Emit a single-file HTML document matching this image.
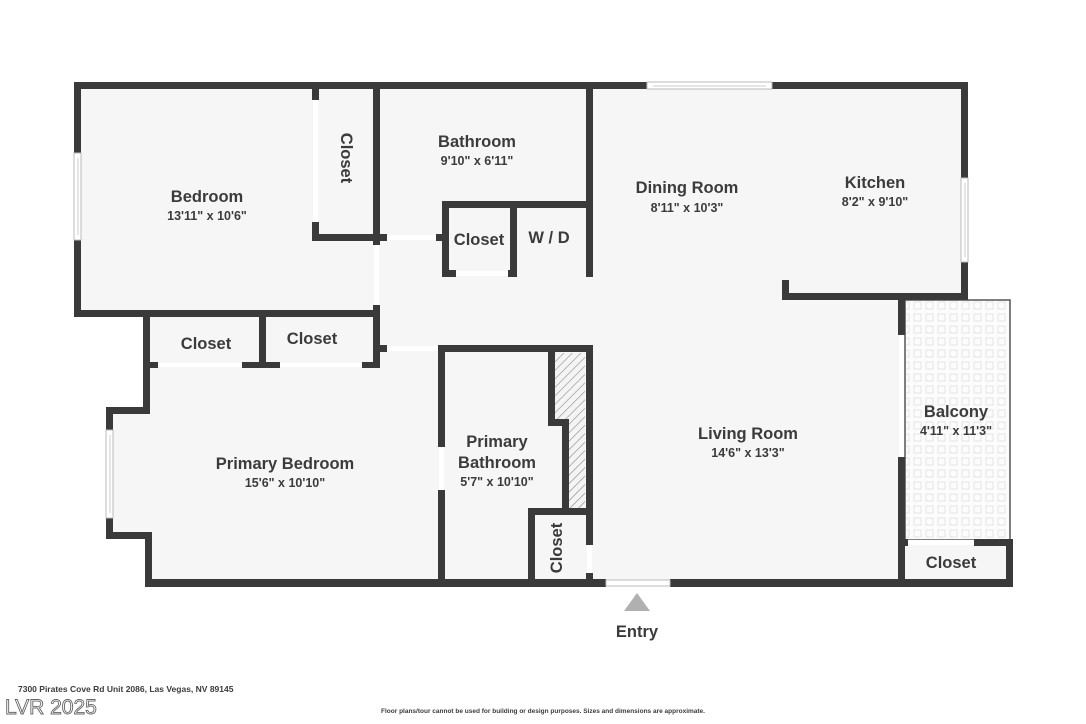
<!DOCTYPE html>
<html><head><meta charset="utf-8"><style>
html,body{margin:0;padding:0;background:#fff;width:1086px;height:724px;overflow:hidden}
svg{display:block}
text{font-family:"Liberation Sans",sans-serif;font-weight:bold;fill:#3b3b3b;text-anchor:middle}
.l{font-size:16.5px}.d{font-size:12.5px}
</style></head><body>
<svg width="1086" height="724" viewBox="0 0 1086 724" xmlns="http://www.w3.org/2000/svg">
<defs>
<pattern id="tile" width="12" height="12" patternUnits="userSpaceOnUse">
<rect width="12" height="12" fill="#fcfcfc"/>
<rect x="2" y="2" width="7" height="7" fill="none" stroke="#e4e4e4" stroke-width="1"/>
</pattern>
<pattern id="hatch" width="6" height="6" patternUnits="userSpaceOnUse" patternTransform="rotate(45)">
<rect width="6" height="6" fill="#f4f4f4"/>
<line x1="0" y1="0" x2="0" y2="6" stroke="#8a8a8a" stroke-width="1.2"/>
</pattern>
</defs>
<path d="M78 86 H965 V297 H902 V583 H148 V535 H110 V410 H146 V313 H78 Z" fill="#f6f6f6"/>
<rect x="905" y="300" width="105" height="240" fill="url(#tile)" stroke="#555" stroke-width="1.5"/>
<rect x="905" y="543" width="105" height="40" fill="#f6f6f6"/>
<path d="M555 353 H585 V508 H569 V420 H555 Z" fill="url(#hatch)"/>
<g fill="#3a3a3a">
<rect x="74" y="82" width="573" height="7"/>
<rect x="772" y="82" width="196" height="7"/>
<rect x="74" y="82" width="7" height="71"/>
<rect x="74" y="240" width="7" height="77"/>
<rect x="74" y="310" width="306" height="7"/>
<rect x="312" y="89" width="7" height="11"/>
<rect x="312" y="222" width="7" height="19"/>
<rect x="312" y="234" width="68" height="7"/>
<rect x="373" y="82" width="7" height="163"/>
<rect x="373" y="305" width="7" height="63"/>
<rect x="373" y="234" width="14" height="7"/>
<rect x="586" y="82" width="7" height="195"/>
<rect x="442" y="201" width="151" height="7"/>
<rect x="436" y="234" width="13" height="7"/>
<rect x="442" y="201" width="7" height="76"/>
<rect x="510" y="201" width="7" height="76"/>
<rect x="442" y="270" width="14" height="7"/>
<rect x="508" y="270" width="9" height="7"/>
<rect x="961" y="82" width="7" height="96"/>
<rect x="961" y="262" width="7" height="38"/>
<rect x="782" y="293" width="186" height="7"/>
<rect x="782" y="280" width="7" height="20"/>
<rect x="143" y="313" width="7" height="99"/>
<rect x="259" y="313" width="7" height="55"/>
<rect x="143" y="362" width="15" height="6"/>
<rect x="242" y="362" width="38" height="6"/>
<rect x="362" y="362" width="18" height="6"/>
<rect x="373" y="345" width="14" height="7"/>
<rect x="438" y="345" width="155" height="7"/>
<rect x="106" y="407" width="44" height="7"/>
<rect x="106" y="407" width="7" height="23"/>
<rect x="106" y="518" width="7" height="21"/>
<rect x="106" y="532" width="46" height="7"/>
<rect x="145" y="532" width="7" height="55"/>
<rect x="145" y="579" width="461" height="8"/>
<rect x="670" y="579" width="343" height="8"/>
<rect x="438" y="345" width="7" height="102"/>
<rect x="438" y="490" width="7" height="97"/>
<rect x="548" y="345" width="7" height="81"/>
<rect x="548" y="419" width="21" height="7"/>
<rect x="562" y="419" width="7" height="93"/>
<rect x="586" y="345" width="7" height="200"/>
<rect x="586" y="573" width="7" height="14"/>
<rect x="528" y="508" width="65" height="7"/>
<rect x="528" y="508" width="7" height="79"/>
<rect x="898" y="300" width="7" height="35"/>
<rect x="898" y="457" width="7" height="130"/>
<rect x="898" y="539" width="10" height="7"/>
<rect x="974" y="539" width="39" height="7"/>
<rect x="1006" y="539" width="7" height="48"/>
</g>
<g fill="#fff" stroke="#bbb" stroke-width="1">
<rect x="647" y="82" width="125" height="7"/>
<rect x="74" y="153" width="7" height="87"/>
<rect x="961" y="178" width="7" height="84"/>
<rect x="106" y="430" width="7" height="88"/>
<rect x="606" y="580" width="64" height="6"/>
</g>
<g stroke="#ccc" stroke-width="1" fill="none">
<line x1="78" y1="158" x2="78" y2="235"/><line x1="965" y1="183" x2="965" y2="257"/><line x1="110" y1="435" x2="110" y2="513"/>
<line x1="653" y1="86" x2="766" y2="86"/>
</g>
<g fill="#fff">
<rect x="313" y="100" width="5" height="122"/>
<rect x="374" y="245" width="5" height="60"/>
<rect x="387" y="235" width="49" height="5"/>
<rect x="456" y="271" width="52" height="5"/>
<rect x="158" y="363" width="84" height="4"/>
<rect x="280" y="363" width="82" height="4"/>
<rect x="387" y="346" width="51" height="5"/>
<rect x="439" y="447" width="5" height="43"/>
<rect x="587" y="545" width="5" height="28"/>
<rect x="899" y="335" width="5" height="122"/>
<rect x="908" y="540" width="66" height="5"/>
</g>
<polygon points="637,593 650,611 624,611" fill="#b0b0b0"/>
<text class="l" x="207" y="202">Bedroom</text><text class="d" x="207" y="220">13'11" x 10'6"</text>
<text class="l" x="477" y="147">Bathroom</text><text class="d" x="477" y="165">9'10" x 6'11"</text>
<text class="l" transform="translate(341,158) rotate(90)">Closet</text>
<text class="l" x="479" y="245">Closet</text>
<text class="l" x="549" y="243">W / D</text>
<text class="l" x="687" y="193">Dining Room</text><text class="d" x="687" y="212">8'11" x 10'3"</text>
<text class="l" x="875" y="188">Kitchen</text><text class="d" x="875" y="206">8'2" x 9'10"</text>
<text class="l" x="206" y="349">Closet</text>
<text class="l" x="312" y="344">Closet</text>
<text class="l" x="285" y="469">Primary Bedroom</text><text class="d" x="285" y="487">15'6" x 10'10"</text>
<text class="l" x="497" y="447">Primary</text><text class="l" x="497" y="468">Bathroom</text><text class="d" x="497" y="486">5'7" x 10'10"</text>
<text class="l" transform="translate(562,548) rotate(-90)">Closet</text>
<text class="l" x="748" y="439">Living Room</text><text class="d" x="748" y="457">14'6" x 13'3"</text>
<text class="l" x="956" y="417">Balcony</text><text class="d" x="956" y="435">4'11" x 11'3"</text>
<text class="l" x="951" y="568">Closet</text>
<text class="l" x="637" y="637">Entry</text>
<text style="font-size:8.5px;text-anchor:start" x="18" y="692">7300 Pirates Cove Rd Unit 2086, Las Vegas, NV 89145</text>
<text style="font-size:6.5px" x="543" y="713">Floor plans/tour cannot be used for building or design purposes. Sizes and dimensions are approximate.</text>
<text style="font-size:21px;font-weight:normal;text-anchor:start;fill:#fff;stroke:#666;stroke-width:0.9" x="5" y="714">LVR 2025</text>
</svg>
</body></html>
